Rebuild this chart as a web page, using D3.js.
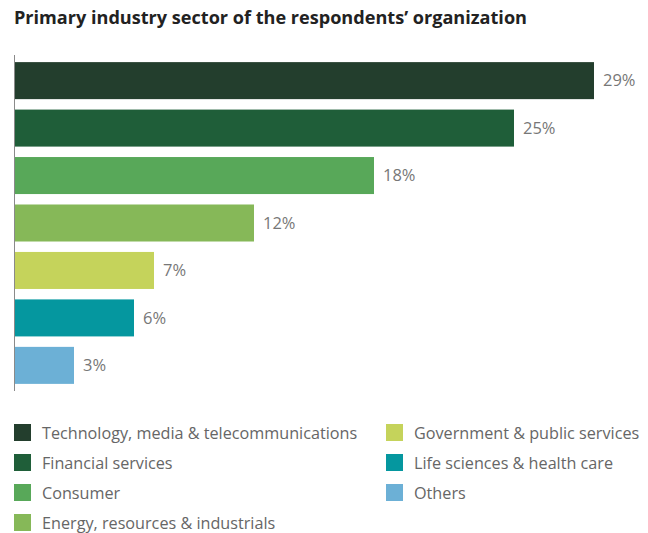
<!DOCTYPE html>
<html>
<head>
<meta charset="utf-8">
<script src="https://cdn.jsdelivr.net/npm/d3@7"></script>
<style>
  html, body { margin: 0; padding: 0; background: #fff; }
  svg { display: block; font-family: "Open Sans", "Noto Sans", sans-serif; }
</style>
</head>
<body>
<svg id="chart" width="648" height="533"></svg>
<script>
const categories = [
  "Technology, media & telecommunications",
  "Financial services",
  "Consumer",
  "Energy, resources & industrials",
  "Government & public services",
  "Life sciences & health care",
  "Others"
];
const values = [29, 25, 18, 12, 7, 6, 3];
const colors = ["#233e2d", "#1f5e39", "#58a859", "#86b858", "#c5d35b", "#05979f", "#6cb0d6"];

const svg = d3.select("#chart");

svg.append("text")
  .attr("x", 14).attr("y", 24)
  .attr("font-size", 18.1).attr("font-weight", 700)
  .attr("fill", "#222")
  .text("Primary industry sector of the respondents\u2019 organization");

const left = 14;
const x = d3.scaleLinear().domain([0, 29]).range([left, 594]);
const y = d3.scaleBand().domain(categories).range([55, 391]).paddingInner(0.22).paddingOuter(0.15);

const g = svg.append("g");
g.selectAll("rect.bar").data(categories).join("rect")
  .attr("class", "bar")
  .attr("x", x(0))
  .attr("y", d => y(d))
  .attr("width", (d, i) => x(values[i]) - x(0))
  .attr("height", y.bandwidth())
  .attr("fill", (d, i) => colors[i]);

g.selectAll("text.val").data(categories).join("text")
  .attr("class", "val")
  .attr("x", (d, i) => x(values[i]) + 9)
  .attr("y", d => y(d) + y.bandwidth() / 2)
  .attr("dy", "0.35em")
  .attr("font-size", 16.5).attr("fill", "#777")
  .text((d, i) => values[i] + "%");

// vertical baseline axis
const axis = svg.append("g").attr("transform", `translate(${left},0)`)
  .call(d3.axisLeft(y).tickSize(0).tickFormat(""));
axis.select(".domain").attr("stroke", "#8a8a8a").attr("d", "M0.5,55V391");

// legend: two columns
const legendPos = categories.map((c, i) => i < 4
  ? { x: 14, y: 424 + i * 30 }
  : { x: 386, y: 424 + (i - 4) * 30 });

const lg = svg.append("g").selectAll("g").data(categories).join("g")
  .attr("transform", (d, i) => `translate(${legendPos[i].x},${legendPos[i].y})`);
lg.append("rect").attr("width", 17).attr("height", 17)
  .attr("fill", (d, i) => colors[i]);
lg.append("text").attr("x", 28).attr("y", 9).attr("dy", "0.35em")
  .attr("font-size", 16.2).attr("fill", "#666")
  .text(d => d);
</script>
</body>
</html>
